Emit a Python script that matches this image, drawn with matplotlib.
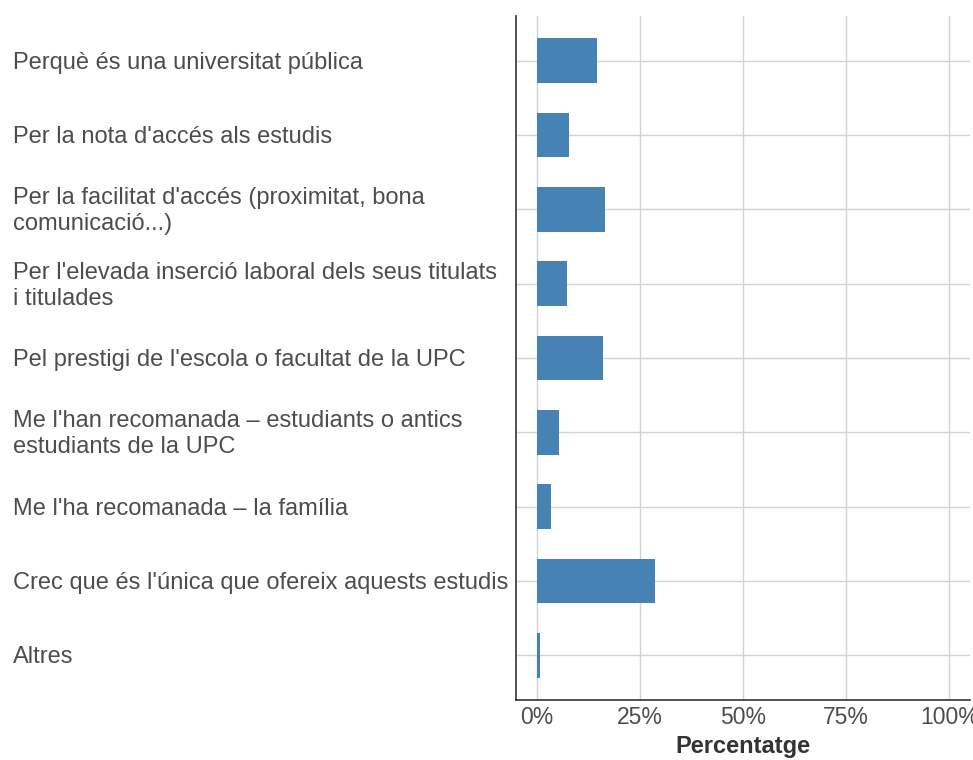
import matplotlib.pyplot as plt
import matplotlib.transforms as mtransforms
from matplotlib.ticker import PercentFormatter

plt.rcParams['font.family'] = ['Liberation Sans', 'DejaVu Sans']

categories = [
    "Perquè és una universitat pública",
    "Per la nota d'accés als estudis",
    "Per la facilitat d'accés (proximitat, bona\ncomunicació...)",
    "Per l'elevada inserció laboral dels seus titulats\ni titulades",
    "Pel prestigi de l'escola o facultat de la UPC",
    "Me l'han recomanada – estudiants o antics\nestudiants de la UPC",
    "Me l'ha recomanada – la família",
    "Crec que és l'única que ofereix aquests estudis",
    "Altres",
]
values = [14.6, 7.8, 16.5, 7.3, 16.0, 5.3, 3.4, 28.6, 0.7]
xticks = [0, 25, 50, 75, 100]

fig = plt.figure(figsize=(9.73, 7.6), dpi=100)
ax = fig.add_axes([516 / 973, 60 / 760, 454 / 973, 684 / 760])

ypos = list(range(len(categories)))
ax.barh(ypos, values, height=0.6, color='#4682b4', zorder=2)

ax.set_ylim(len(categories) - 0.4, -0.6)
ax.set_xlim(-5, 105)
ax.set_yticks(ypos)
ax.set_yticklabels([])
ax.set_xticks(xticks)
ax.xaxis.set_major_formatter(PercentFormatter(decimals=0))
ax.tick_params(length=0, labelsize=16.5, labelcolor='#4d4d4d', pad=4)
ax.grid(True, color='#d3d3d3', linewidth=1, zorder=0)

for s in ['top', 'right']:
    ax.spines[s].set_visible(False)
for s in ['left', 'bottom']:
    ax.spines[s].set_color('#333333')
    ax.spines[s].set_linewidth(1.2)

trans = mtransforms.blended_transform_factory(fig.transFigure, ax.transData)
shift = mtransforms.ScaledTranslation(0, -2.0 / 100, fig.dpi_scale_trans)
for y, lab in zip(ypos, categories):
    ax.text(13 / 973, y, lab, transform=trans + shift, ha='left', va='center',
            fontsize=17, color='#4d4d4d', linespacing=1.22, clip_on=False)

ax.set_xlabel('Percentatge', fontsize=17, fontweight='bold', color='#333333', labelpad=5)

fig.savefig('out.png', dpi=100)
